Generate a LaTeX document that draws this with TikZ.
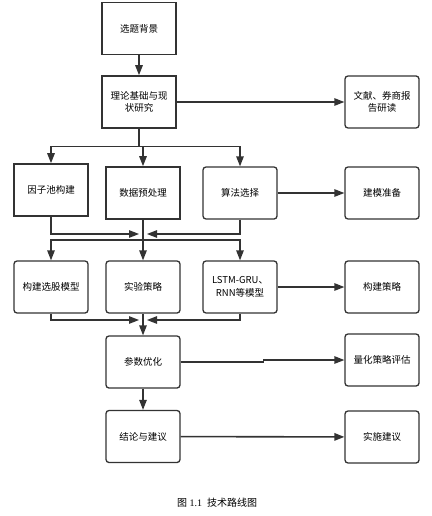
\documentclass[tikz,border=0pt]{standalone}
\usepackage{fontspec}
\setmainfont{Liberation Serif}
\newfontfamily\cjk{Noto Sans CJK SC}
\usetikzlibrary{arrows.meta}
\definecolor{linegray}{HTML}{333333}
\begin{document}
\begin{tikzpicture}[x=1pt, y=-1pt,
	sqbox/.style={draw=linegray, line width=1.6pt, minimum width=74pt, minimum height=52pt, align=center, font=\cjk\fontsize{9.5}{12.5}\selectfont},
	rbox/.style={sqbox, rounded corners=3pt, line width=1.3pt},
	arr/.style={draw=linegray, line width=1.3pt, -{Triangle[length=10pt, width=7.5pt]}},
	ln/.style={draw=linegray, line width=1.3pt}]
	\useasboundingbox (0, 0) rectangle (431, 516);
	
	\node[sqbox] (bg) at (139, 28.5) {选题背景};
	\node[sqbox] (theory) at (139, 102) {理论基础与现\\状研究};
	\node[rbox] (lit) at (382, 102) {文献、券商报\\告研读};
	
	\node[sqbox] (factor) at (51, 190) {因子池构建};
	\node[sqbox] (prep) at (143, 193) {数据预处理};
	\node[rbox] (algo) at (240, 193) {算法选择};
	\node[rbox] (ready) at (382, 193) {建模准备};
	
	\node[rbox] (select) at (51, 287) {构建选股模型};
	\node[rbox] (exp) at (143, 287) {实验策略};
	\node[rbox] (lstm) at (240, 287) {LSTM-GRU、\\RNN等模型};
	\node[rbox] (strat) at (382, 287) {构建策略};
	
	\node[rbox] (opt) at (143, 362) {参数优化};
	\node[rbox] (eval) at (382, 360) {量化策略评估};
	\node[rbox] (concl) at (143, 436.5) {结论与建议};
	\node[rbox] (advice) at (382, 437) {实施建议};
	
	\node[font=\fontsize{10}{12}\selectfont] (cap) at (217, 503) {{\cjk 图} 1.1\ \ {\cjk 技术路线图}};
	
	\coordinate (split) at (139, 146.5);
	\coordinate (m1) at (143, 234);
	\coordinate (d1) at (143, 240);
	\coordinate (m2) at (143, 320);
	
	\draw[arr] (bg) -- (theory);
	\draw[arr] (theory) -- (lit);
	\draw[ln] (theory.south) -- (split);
	\draw[arr] (split) -| (factor.north);
	\draw[arr] (split) -| (algo.north);
	\draw[arr] (prep.north |- split) -- (prep.north);
	\draw[arr] (algo) -- (ready);
	
	\draw[arr] (factor.south) |- ([xshift=-4pt]m1);
	\draw[arr] (algo.south) |- ([xshift=4pt]m1);
	\draw[arr] (prep.south) -- (exp.north);
	\draw[arr] (d1) -| (select.north);
	\draw[arr] (d1) -| (lstm.north);
	\draw[arr] (lstm) -- (strat);
	
	\draw[arr] (select.south) |- ([xshift=-4pt]m2);
	\draw[arr] (lstm.south) |- ([xshift=4pt]m2);
	\draw[arr] (exp.south) -- (opt.north);
	\draw[arr] (opt.east) -- ++(83, 0) |- (eval.west);
	\draw[arr] (opt) -- (concl);
	\draw[arr, line width=1.6pt] (concl) -- (advice);
\end{tikzpicture}
\end{document}
